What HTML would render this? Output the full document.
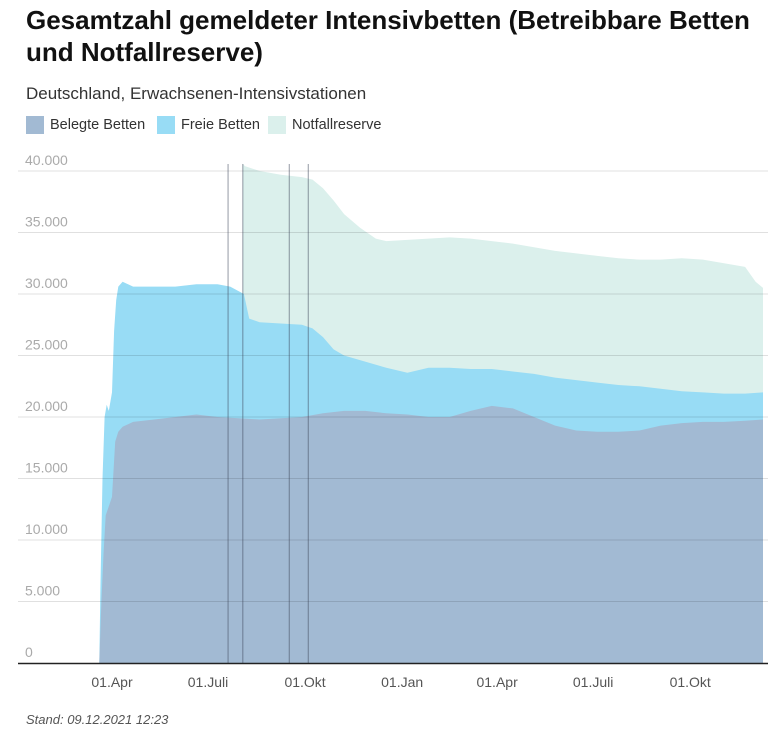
<!DOCTYPE html>
<html><head><meta charset="utf-8"><style>
body{margin:0;background:#fff;font-family:"Liberation Sans",sans-serif;}
#wrap{position:relative;width:768px;height:732px;overflow:hidden}
h1{position:absolute;left:26px;top:4px;margin:0;font-size:26px;line-height:32px;font-weight:bold;color:#111;white-space:nowrap;letter-spacing:0}
.sub{position:absolute;left:26px;top:84px;font-size:17px;color:#333}
.leg{position:absolute;top:116px;font-size:14.5px;color:#333;display:flex;align-items:center}
.sw{width:18px;height:18px;margin-right:6px;display:inline-block}
.foot{position:absolute;left:26px;top:712px;font-size:13px;font-style:italic;color:#555}
</style></head><body>
<div id="wrap">
<h1>Gesamtzahl gemeldeter Intensivbetten (Betreibbare Betten<br>und Notfallreserve)</h1>
<div class="sub">Deutschland, Erwachsenen-Intensivstationen</div>
<div class="leg" style="left:26px"><span class="sw" style="background:#a2bad3"></span>Belegte Betten</div>
<div class="leg" style="left:157px"><span class="sw" style="background:#98dcf5"></span>Freie Betten</div>
<div class="leg" style="left:268px"><span class="sw" style="background:#dbf0ec"></span>Notfallreserve</div>
<svg id="chart" width="768" height="732" style="position:absolute;left:0;top:0"></svg>
<div class="foot">Stand: 09.12.2021 12:23</div>
</div>
<script>
// day offsets relative to 01.04.2020
const belegtDays=[-12,-10,-8,-6,-4,-2,0,3,6,10,20,40,60,80,100,120,140,160,180,200,220,240,260,280,300,320,340,360,380,400,420,440,460,480,500,520,540,560,580,600,617];
const belegtVals=[0,5000,9000,12000,12500,13000,13500,18000,18800,19200,19600,19800,20000,20200,20000,19900,19800,19900,20000,20300,20500,20500,20300,20200,20000,20000,20500,20900,20700,20000,19300,18900,18800,18800,18900,19300,19500,19600,19600,19700,19800];
const freieDays=[-12,-11,-9,-7,-5,-3,0,2,4,6,10,20,40,60,80,100,112,125,130,140,160,180,190,200,210,220,240,260,280,300,320,340,360,380,400,420,440,460,480,500,520,540,560,580,600,617];
const freieVals=[0,6000,15000,20000,21000,20500,22000,27000,29500,30600,31000,30600,30600,30600,30800,30800,30600,30000,28000,27700,27600,27500,27200,26500,25500,25000,24500,24000,23600,24000,24000,23900,23900,23700,23500,23200,23000,22800,22600,22500,22300,22100,22000,21900,21900,22000];
const reserveDays=[124,126,140,160,180,190,200,210,220,235,250,260,280,300,320,340,360,380,400,420,440,460,480,500,520,540,560,580,600,610,617];
const reserveVals=[40600,40400,40000,39700,39500,39300,38600,37600,36500,35400,34500,34300,34400,34500,34600,34500,34300,34100,33800,33500,33300,33100,32900,32800,32800,32900,32800,32500,32200,31000,30500];
const yTicks=[0,5000,10000,15000,20000,25000,30000,35000,40000];
const yTickLabels=["0","5.000","10.000","15.000","20.000","25.000","30.000","35.000","40.000"];
const xTickDays=[0,91,183,275,365,456,548];
const xTickLabels=["01.Apr","01.Juli","01.Okt","01.Jan","01.Apr","01.Juli","01.Okt"];
const markerDays=[110,124,168,186];

const svg=document.getElementById('chart');
const NS='http://www.w3.org/2000/svg';
const x=d=>112+d*1.0551;
const y=v=>663-v*(492/40000);
function mk(t,a){const e=document.createElementNS(NS,t);for(const k in a)e.setAttribute(k,a[k]);svg.appendChild(e);return e;}
function area(days,vals,fill,name){
  let p='M'+x(days[0])+','+y(0);
  days.forEach((d,i)=>p+='L'+x(d).toFixed(1)+','+y(vals[i]).toFixed(1));
  p+='L'+x(days[days.length-1])+','+y(0)+'Z';
  const e=mk('path',{d:p,fill:fill});
  
  
}
area(reserveDays,reserveVals,'#dbf0ec','area-notfallreserve');
area(freieDays,freieVals,'#98dcf5','area-freie-betten');
area(belegtDays,belegtVals,'#a2bad3','area-belegte-betten');
yTicks.forEach((v,i)=>{
  if(v>0){const g=mk('line',{x1:18,x2:768,y1:y(v),y2:y(v),stroke:'rgba(0,0,0,0.12)','stroke-width':1});
  
  }
  const t=mk('text',{x:25,y:y(v)-6,'font-size':14,fill:'#aaa','font-family':'Liberation Sans, sans-serif'});
  t.textContent=yTickLabels[i];
  
  
});
markerDays.forEach(d=>{
  const l=mk('line',{x1:x(d),x2:x(d),y1:164,y2:663,stroke:'rgba(60,70,90,0.55)','stroke-width':1});
  
  
});
const ax=mk('line',{x1:18,x2:768,y1:663.5,y2:663.5,stroke:'#222','stroke-width':1.5});


xTickDays.forEach((d,i)=>{
  const t=mk('text',{x:x(d),y:687,'font-size':14,fill:'#555','text-anchor':'middle','font-family':'Liberation Sans, sans-serif'});
  t.textContent=xTickLabels[i];
  
  
});
</script>
</body></html>
